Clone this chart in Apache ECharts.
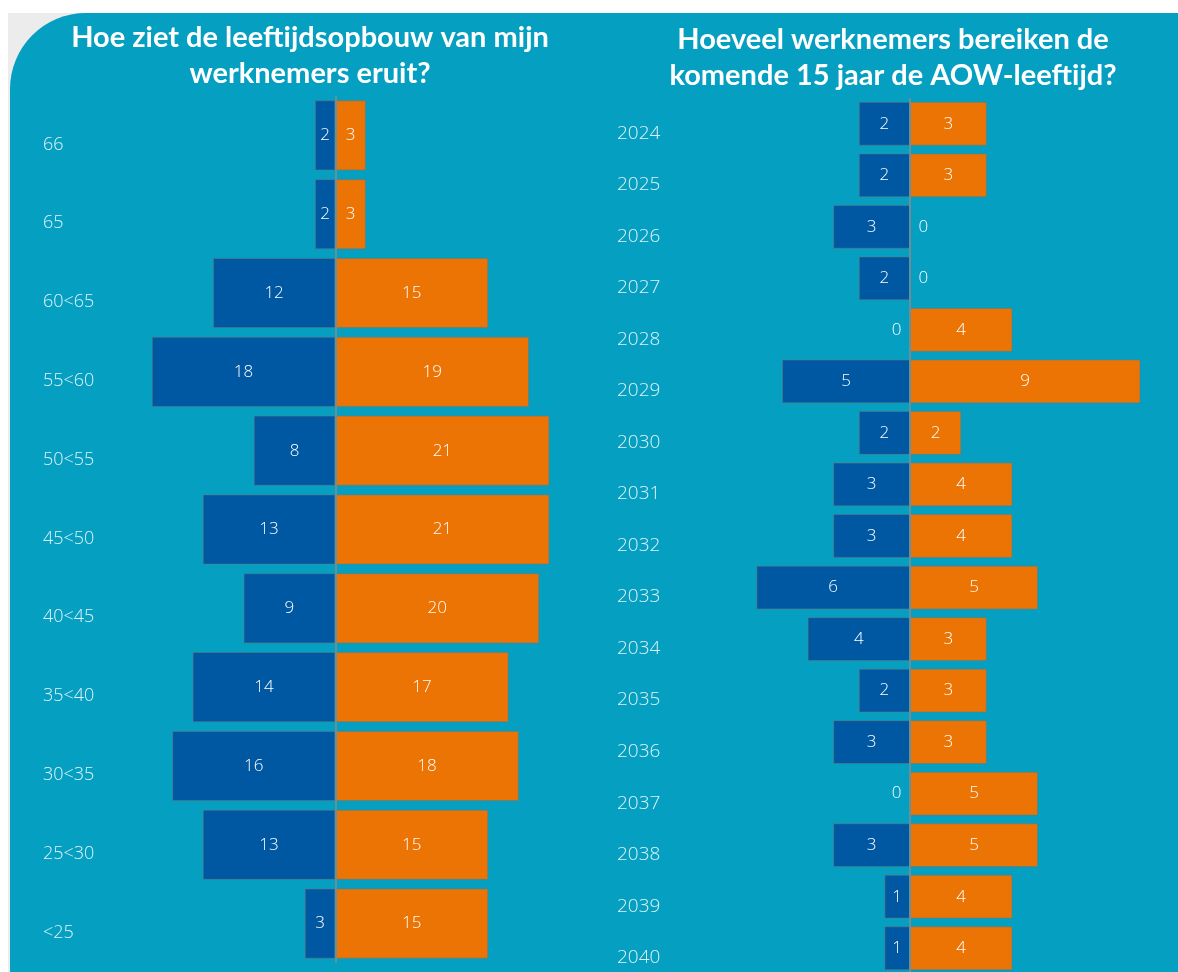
<!DOCTYPE html>
<html>
<head>
<meta charset="utf-8">
<script src="https://cdn.jsdelivr.net/npm/echarts@6/dist/echarts.min.js"></script>
<style>
  html, body { margin: 0; padding: 0; background: #ffffff; }
  #wrap { position: relative; width: 1178px; height: 972px; overflow: hidden; }
  #grey { position: absolute; left: 8px; top: 13px; right: 0; bottom: 0; background: #ececec; }
  #teal { position: absolute; left: 10px; top: 13px; right: 0; bottom: 0; background: #049fc1; border-top-left-radius: 76px 76px; }
  #chart { position: absolute; left: 0; top: 0; width: 1178px; height: 972px; }
</style>
</head>
<body>
<div id="wrap">
  <div id="grey"></div>
  <div id="teal"></div>
  <div id="chart"></div>
</div>
<script>
// ---- data ----
const titleLeft = 'Hoe ziet de leeftijdsopbouw van mijn\nwerknemers eruit?';
const titleRight = 'Hoeveel werknemers bereiken de\nkomende 15 jaar de AOW-leeftijd?';

const ageGroups = ['66', '65', '60<65', '55<60', '50<55', '45<50', '40<45', '35<40', '30<35', '25<30', '<25'];
const ageMen    = [2, 2, 12, 18, 8, 13, 9, 14, 16, 13, 3];
const ageWomen  = [3, 3, 15, 19, 21, 21, 20, 17, 18, 15, 15];

const years      = ['2024','2025','2026','2027','2028','2029','2030','2031','2032','2033','2034','2035','2036','2037','2038','2039','2040'];
const aowMen     = [2, 2, 3, 2, 0, 5, 2, 3, 3, 6, 4, 2, 3, 0, 3, 1, 1];
const aowWomen   = [3, 3, 0, 0, 4, 9, 2, 4, 4, 5, 3, 3, 3, 5, 5, 4, 4];

// ---- style ----
const BLUE = '#0057a2';
const ORANGE = '#ec7404';
const LABEL_FONT = '"Open Sans", "DejaVu Sans", sans-serif';
const TITLE_FONT = 'Lato, "Open Sans", sans-serif';

function leftData(arr) {
  return arr.map(v => v === 0 ? { value: 0, label: { position: 'left', distance: 8 } } : -v);
}
function rightData(arr) {
  return arr.map(v => v === 0 ? { value: 0, label: { position: 'right', distance: 8 } } : v);
}
const barLabel = {
  show: true,
  position: 'inside',
  color: '#ffffff',
  fontFamily: LABEL_FONT,
  fontSize: 17,
  fontWeight: 300,
  formatter: p => String(Math.abs(p.value))
};
const centerLine = {
  silent: true,
  symbol: 'none',
  label: { show: false },
  lineStyle: { color: '#6a8f99', width: 2, type: 'solid' },
  data: [{ xAxis: 0 }]
};
const itemBorder = { borderColor: 'rgba(110,120,120,0.55)', borderWidth: 1 };

const chart = echarts.init(document.getElementById('chart'), null, { renderer: 'canvas' });
chart.setOption({
  animation: false,
  backgroundColor: 'transparent',
  graphic: [
    { type: 'text', x: 310, y: 56, z: 100,
      style: { text: titleLeft, fill: '#ffffff', font: 'bold 29px ' + TITLE_FONT, textAlign: 'center', textVerticalAlign: 'middle', lineHeight: 36 } },
    { type: 'text', x: 893, y: 58, z: 100,
      style: { text: titleRight, fill: '#ffffff', font: 'bold 29px ' + TITLE_FONT, textAlign: 'center', textVerticalAlign: 'middle', lineHeight: 36 } }
  ],
  grid: [
    { left: 60, top: 96, width: 520, height: 867, outerBoundsMode: 'none' },
    { left: 654, top: 98, width: 512, height: 876, outerBoundsMode: 'none' }
  ],
  xAxis: [
    { gridIndex: 0, type: 'value', min: -27, max: 24, show: false },
    { gridIndex: 1, type: 'value', min: -10, max: 10, show: false }
  ],
  yAxis: [
    { gridIndex: 0, type: 'category', data: ageGroups, inverse: true,
      axisLine: { show: false, onZero: false }, axisTick: { show: false }, splitLine: { show: false },
      axisLabel: { align: 'left', verticalAlign: 'top', margin: 17, color: 'rgba(255,255,255,0.88)', fontFamily: LABEL_FONT, fontSize: 18, fontWeight: 300 } },
    { gridIndex: 1, type: 'category', data: years, inverse: true,
      axisLine: { show: false, onZero: false }, axisTick: { show: false }, splitLine: { show: false },
      axisLabel: { align: 'left', verticalAlign: 'top', margin: 37, color: 'rgba(255,255,255,0.88)', fontFamily: LABEL_FONT, fontSize: 19, fontWeight: 300 } }
  ],
  series: [
    { type: 'bar', name: 'Mannen', xAxisIndex: 0, yAxisIndex: 0, barGap: '-100%', barCategoryGap: '11%',
      data: leftData(ageMen), itemStyle: Object.assign({ color: BLUE }, itemBorder), label: barLabel },
    { type: 'bar', name: 'Vrouwen', xAxisIndex: 0, yAxisIndex: 0, barGap: '-100%', barCategoryGap: '11%',
      data: rightData(ageWomen), itemStyle: Object.assign({ color: ORANGE }, itemBorder), label: barLabel,
      markLine: centerLine },
    { type: 'bar', name: 'Mannen AOW', xAxisIndex: 1, yAxisIndex: 1, barGap: '-100%', barCategoryGap: '15%',
      data: leftData(aowMen), itemStyle: Object.assign({ color: BLUE }, itemBorder), label: barLabel },
    { type: 'bar', name: 'Vrouwen AOW', xAxisIndex: 1, yAxisIndex: 1, barGap: '-100%', barCategoryGap: '15%',
      data: rightData(aowWomen), itemStyle: Object.assign({ color: ORANGE }, itemBorder), label: barLabel,
      markLine: centerLine }
  ]
});
</script>
</body>
</html>
